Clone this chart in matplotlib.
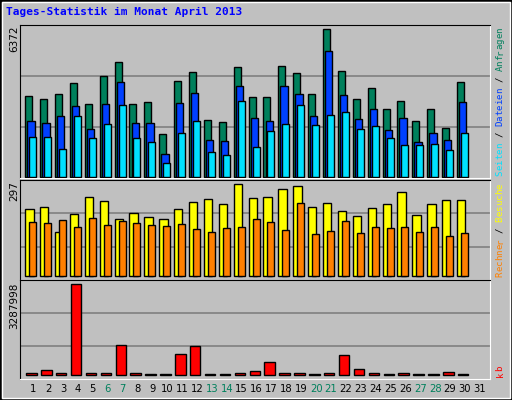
import matplotlib
matplotlib.use("Agg")
import matplotlib.pyplot as plt
from matplotlib.patches import Rectangle

days = list(range(1, 32))
hits  = [3476,3346,3562,4038,3130,4340,4945,3130,3216,1833,4124,4513,2438,2352,4729,3432,3432,4773,4470,3562,6372,4556,3346,3821,2914,3260,2395,2914,2092,4081,0]
files = [2395,2308,2611,3043,2049,3130,4081,2308,2308,968,3173,3605,1574,1530,3908,2525,2395,3908,3562,2611,5421,3519,2481,2914,2006,2525,1487,1876,1574,3216,0]
pages = [1703,1703,1184,2611,1660,2265,3087,1660,1487,579,1876,2395,1055,925,3260,1271,1963,2265,3087,2222,2654,2784,2049,2179,1660,1357,1357,1401,1141,1876,0]
visits = [216,223,142,200,255,242,184,203,190,184,216,239,248,232,297,252,255,281,291,223,236,210,193,219,232,271,197,232,245,245,0]
sites  = [174,171,180,158,187,164,177,171,164,161,167,151,142,155,158,184,174,148,236,135,145,177,138,158,155,158,142,158,129,138,0]
kbytes = [72000,181000,72000,3287998,72000,72000,1084000,72000,36000,36000,759000,1048000,36000,36000,72000,145000,470000,72000,72000,36000,72000,723000,217000,72000,36000,72000,36000,36000,108000,36000,0]
weekend = {6,7,13,14,20,21,27,28}
title = "Tages-Statistik im Monat April 2013"

BG = "#C0C0C0"
fig = plt.figure(figsize=(5.12, 4.0), dpi=100, facecolor=BG)
fig.patches.append(Rectangle((0, 0), 1, 1, transform=fig.transFigure, fill=False, edgecolor="black", lw=2))
fig.patches.append(Rectangle((2/512, 2/400), 508/512, 396/400, transform=fig.transFigure, fill=False, edgecolor="white", lw=1))
mono = "DejaVu Sans Mono"

def mkax(top, bot):
    ax = fig.add_axes([20/512, 1 - bot/400, 470/512, (bot - top)/400])
    ax.set_facecolor(BG)
    ax.set_xlim(0.108, 31.68)
    ax.set_xticks([]); ax.set_yticks([])
    for s in ["left", "top"]:
        ax.spines[s].set_color("black")
    for s in ["right", "bottom"]:
        ax.spines[s].set_color("white")
    for f in (1/3, 2/3):
        ax.plot([0, 1], [f, f], transform=ax.transAxes, color="#808080", lw=1.2, zorder=1)
    return ax

def bars(ax, vals, off, w, color):
    pts = [(d + off, v) for d, v in zip(days, vals) if v > 0]
    ax.bar([p[0] for p in pts], [p[1] for p in pts], width=w, align="edge",
           color=color, edgecolor="black", lw=1, zorder=3)

ax1 = mkax(25, 178)
ax1.set_ylim(-56, 6555)
bars(ax1, hits, -0.54, 0.47, "#00805C")
bars(ax1, files, -0.40, 0.49, "#0040FF")
bars(ax1, pages, -0.27, 0.47, "#00E0FF")

ax2 = mkax(180, 280)
ax2.set_ylim(-13, 311)
bars(ax2, visits, -0.54, 0.56, "#FFFF00")
bars(ax2, sites, -0.27, 0.47, "#FF8000")

ax3 = mkax(280, 379)
ax3.set_ylim(-134000, 3443000)
bars(ax3, kbytes, -0.47, 0.70, "#FF0000")

for d in days:
    ax3.text(d, -0.05, str(d), transform=ax3.get_xaxis_transform(), ha="center", va="top",
             fontsize=7.2, color="#00805C" if d in weekend else "black")

fig.text(6/512, 1 - 12/400, title, fontfamily=mono, fontweight="bold", fontsize=8, color="#0000FF", va="center")

for y, s in [(25, "6372"), (181, "297"), (283, "3287998")]:
    fig.text(14/512, 1 - y/400, s, rotation=90, ha="center", va="top", fontsize=7.5, color="black")

FS = 6.6
CW = 0.602 * FS * 100 / 72
def vlegend(bottom_px, parts):
    y = bottom_px
    for s, c in parts:
        for ch in s:
            if ch != " ":
                fig.text(500/512, 1 - (y - CW / 2)/400, ch, rotation=90, ha="center", va="center",
                         fontfamily=mono, fontsize=FS, color=c)
            y -= CW

vlegend(176, [("Seiten", "#00E0FF"), (" / ", "black"), ("Dateien", "#0040FF"), (" / ", "black"), ("Anfragen", "#00805C")])
vlegend(277, [("Rechner", "#FF8000"), (" / ", "black"), ("Besuche", "#FFFF00")])
vlegend(377, [("kb", "#FF0000")])

fig.savefig("out.png", dpi=100, facecolor=BG)
